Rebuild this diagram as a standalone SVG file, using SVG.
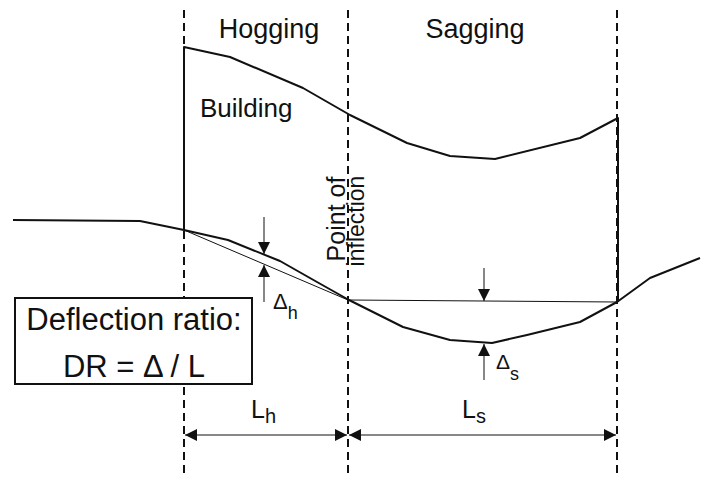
<svg xmlns="http://www.w3.org/2000/svg" width="710" height="477" viewBox="0 0 710 477">
<style>
.dash{stroke:#111;stroke-width:2;stroke-dasharray:8 5;fill:none}
.thick{stroke:#111;stroke-width:2;fill:none;stroke-linejoin:round}
.thin{stroke:#111;stroke-width:1;fill:none}
text{font-family:"Liberation Sans",Arial,sans-serif;fill:#111}
</style>
<defs>
<marker id="ah" viewBox="0 0 10 10" refX="10" refY="5" markerWidth="12" markerHeight="12" markerUnits="userSpaceOnUse" orient="auto-start-reverse">
<path d="M0,0 L10,5 L0,10 z" fill="#111"/>
</marker>
</defs>
<rect width="710" height="477" fill="#fff"/>
<g id="guides">
<line class="dash" x1="184" y1="10" x2="184" y2="477"/>
<line class="dash" x1="348" y1="10" x2="348" y2="477"/>
<line class="dash" x1="617" y1="10" x2="617" y2="477"/>
</g>
<g id="building">
<path class="thick" d="M184,230 L184,47 L230,57 L303,88 L350,115 L407,143 L450,156 L495,159 L580,138 L618,118 L618,302"/>
<text x="200" y="117" font-size="26">Building</text>
</g>
<g id="ground">
<path class="thick" d="M13,220 L140,221 L184,230 L228,240 L280,261 L317,282 L349,300 L403,327 L450,340 L492,343 L527,335 L580,322 L617,302 L650,278 L700,258"/>
<line class="thin" x1="184" y1="230" x2="348" y2="300"/>
<line class="thin" x1="348" y1="300" x2="617" y2="302"/>
</g>
<g id="labels">
<text x="269" y="38" font-size="27" text-anchor="middle">Hogging</text>
<text x="475" y="38" font-size="27" text-anchor="middle">Sagging</text>
<text transform="translate(345,219) rotate(-90)" font-size="25" text-anchor="middle">Point of</text>
<text transform="translate(364,221) rotate(-90)" font-size="23" text-anchor="middle">inflection</text>
</g>
<g id="deflection-box">
<rect x="15" y="298" width="237" height="86" fill="#fff" stroke="#111" stroke-width="2"/>
<text x="134" y="330" font-size="31" text-anchor="middle">Deflection ratio:</text>
<text x="134" y="377" font-size="31" text-anchor="middle">DR = Δ / L</text>
</g>
<g id="connectors">
<line class="thin" x1="264" y1="217" x2="264" y2="254" marker-end="url(#ah)"/>
<line class="thin" x1="264" y1="302" x2="264" y2="265" marker-end="url(#ah)"/>
<line class="thin" x1="484" y1="268" x2="484" y2="301" marker-end="url(#ah)"/>
<line class="thin" x1="484" y1="380" x2="484" y2="344" marker-end="url(#ah)"/>
<line class="thin" x1="185" y1="435" x2="347" y2="435" marker-start="url(#ah)" marker-end="url(#ah)"/>
<line class="thin" x1="349" y1="435" x2="616" y2="435" marker-start="url(#ah)" marker-end="url(#ah)"/>
</g>
<g id="dim-labels">
<text x="273" y="309" font-size="22">Δ<tspan font-size="18" dy="10">h</tspan></text>
<text x="496" y="369" font-size="21">Δ<tspan font-size="18" dy="11">s</tspan></text>
<text x="251" y="418" font-size="25">L<tspan font-size="20" dy="5">h</tspan></text>
<text x="462" y="418" font-size="25">L<tspan font-size="20" dy="5">s</tspan></text>
</g>
</svg>
